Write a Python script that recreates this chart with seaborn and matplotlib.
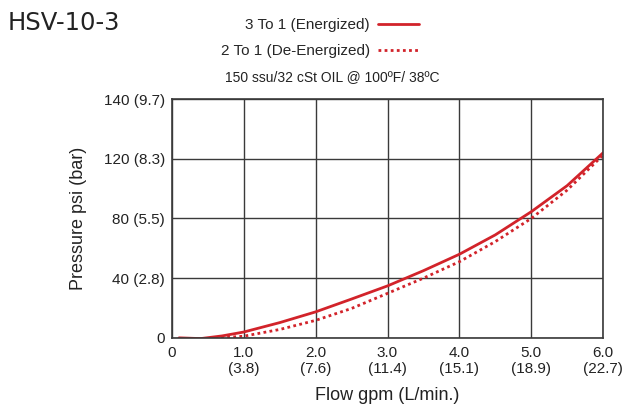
import pandas as pd
import matplotlib.pyplot as plt
import seaborn as sns
from matplotlib.lines import Line2D

# flow (gpm) vs pressure (psi)
flow_3to1 = [0.1, 0.4, 0.7, 1.0, 1.5, 2.0, 2.5, 3.0, 3.5, 4.0, 4.5, 5.0, 5.5, 6.0]
psi_3to1 = [0.0, -0.5, 1.3, 3.9, 10.2, 17.4, 26.0, 34.8, 45.0, 56.0, 69.0, 84.5, 102.0, 124.0]

flow_2to1 = [0.6, 0.8, 1.0, 1.5, 2.0, 2.5, 3.0, 3.5, 4.0, 4.5, 5.0, 5.5, 6.0]
psi_2to1 = [0.0, 0.4, 1.1, 5.6, 11.7, 19.7, 29.8, 40.0, 51.0, 64.5, 80.0, 99.0, 122.5]

x_ticks = [0, 1, 2, 3, 4, 5, 6]
x_tick_labels = ['0', '1.0\n(3.8)', '2.0\n(7.6)', '3.0\n(11.4)', '4.0\n(15.1)', '5.0\n(18.9)', '6.0\n(22.7)']
y_ticks = [0, 40, 80, 120, 160]
y_tick_labels = ['0', '40 (2.8)', '80 (5.5)', '120 (8.3)', '140 (9.7)']

label_3to1 = '3 To 1 (Energized)'
label_2to1 = '2 To 1 (De-Energized)'
red = '#d2232a'


def make_chart():
    sns.set_theme(style='white')
    plt.rcParams['font.family'] = ['Liberation Sans', 'DejaVu Sans']

    fig = plt.figure(figsize=(6.25, 4.11), dpi=100)
    ax = fig.add_axes([0.275, 0.178, 0.69, 0.581])

    df_a = pd.DataFrame({'flow': flow_3to1, 'psi': psi_3to1})
    df_b = pd.DataFrame({'flow': flow_2to1, 'psi': psi_2to1})
    sns.lineplot(data=df_a, x='flow', y='psi', ax=ax, color=red, lw=2.0, sort=False)
    sns.lineplot(data=df_b, x='flow', y='psi', ax=ax, color=red, lw=2.0,
                 linestyle=(0, (1, 1.2)), sort=False)

    ax.set_xlim(0, 6)
    ax.set_ylim(0, 160)
    ax.set_xticks(x_ticks)
    ax.set_xticklabels(x_tick_labels, fontsize=11, color='#222222')
    ax.set_yticks(y_ticks)
    ax.set_yticklabels(y_tick_labels, fontsize=11, color='#222222')
    ax.tick_params(axis='both', length=0)
    ax.tick_params(axis='x', pad=6)
    ax.tick_params(axis='y', pad=5)

    ax.grid(True, color='#3a3a3a', lw=1.0)
    for side in ax.spines.values():
        side.set_color('#3a3a3a')
        side.set_linewidth(1.2)

    ax.set_xlabel('Flow gpm (L/min.)', fontsize=13, color='#222222', labelpad=8)
    ax.set_ylabel('Pressure psi (bar)', fontsize=13, color='#222222', labelpad=12)

    fig.text(0.013, 0.945, 'HSV-10-3', fontsize=17.5, family='DejaVu Sans',
             color='#222222', va='center', ha='left')

    handles = [Line2D([0], [0], color=red, lw=2.0),
               Line2D([0], [0], color=red, lw=2.0, linestyle=(0, (1, 1.2)))]
    fig.legend(handles, [label_3to1, label_2to1], loc='center',
               bbox_to_anchor=(0.512, 0.907), frameon=False, markerfirst=False,
               fontsize=11, handlelength=2.7, handletextpad=0.5, labelspacing=0.75)

    fig.text(0.532, 0.812, '150 ssu/32 cSt OIL @ 100ºF/ 38ºC', fontsize=10,
             color='#222222', ha='center', va='center')

    fig.savefig('out.png', dpi=100)
    return 0


if __name__ == '__main__':
    exit(make_chart())
